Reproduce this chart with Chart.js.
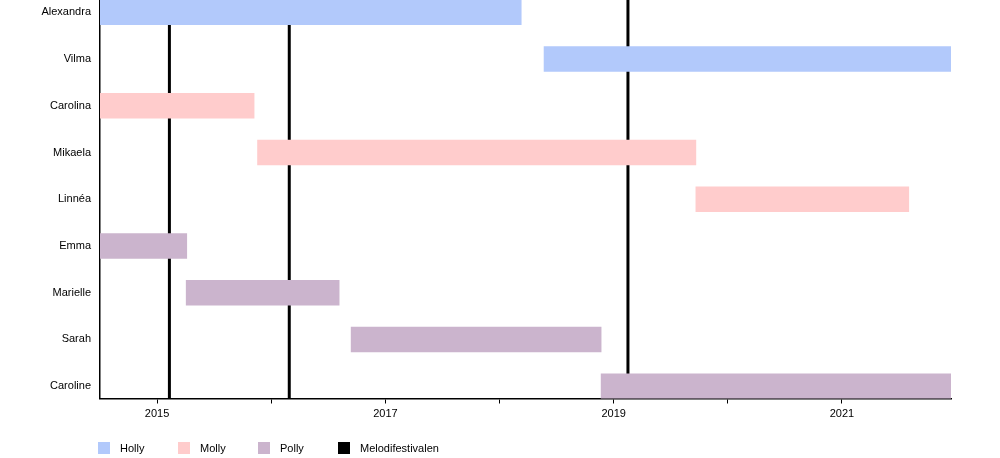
<!DOCTYPE html>
<html>
<head>
<meta charset="utf-8">
<script src="https://cdn.jsdelivr.net/npm/chart.js@4/dist/chart.umd.min.js"></script>
<style>
    html, body { margin: 0; padding: 0; background: #fff; }
    #wrap { position: relative; width: 1000px; height: 458px; }
    #legend { position: absolute; left: 98px; top: 442px; display: flex; font-family: "Liberation Sans", Arial, sans-serif; font-size: 11px; color: #000; }
    .item { min-width: 80px; display: flex; align-items: center; }
    .box { width: 12px; height: 12px; margin-right: 10px; flex-shrink: 0; }
</style>
</head>
<body>
<div id="wrap">
    <canvas id="chart" width="1000" height="458"></canvas>
    <div id="legend"></div>
</div>
<script>
// Medlemmar (uppifrån och ned)
const members = ["Alexandra", "Vilma", "Carolina", "Mikaela", "Linnéa", "Emma", "Marielle", "Sarah", "Caroline"];
const roles = ["Holly", "Molly", "Polly"];
const roleColors = ["#b2c9fb", "#ffcccc", "#cbb4cd"];

// Perioder i decimalår: [medlem, roll, start, slut]
const periodMember = ["Alexandra", "Vilma", "Carolina", "Mikaela", "Linnéa", "Emma", "Marielle", "Sarah", "Caroline"];
const periodRole = ["Holly", "Holly", "Molly", "Molly", "Molly", "Polly", "Polly", "Polly", "Polly"];
const periodStart = [2014.5, 2018.39, 2014.5, 2015.88, 2019.72, 2014.5, 2015.255, 2016.7, 2018.89];
const periodEnd = [2018.19, 2021.955, 2015.85, 2019.72, 2021.585, 2015.26, 2016.595, 2018.89, 2021.955];

// Melodifestivalen
const melodifestivalen = [2015.108, 2016.158, 2019.125];

const yearTicks = [2015, 2016, 2017, 2018, 2019, 2020, 2021];
const yearLabels = ["2015", "", "2017", "", "2019", "", "2021"];

const yMin = -0.263;
const yMax = 8.263;

// Bygg staplar per roll
const barSets = roles.map((role, r) => ({
    type: 'bar',
    label: role,
    data: periodRole.map((pr, i) => pr === role ? {
        y: members.indexOf(periodMember[i]),
        x: [periodStart[i], periodEnd[i]]
    } : null).filter(d => d !== null),
    backgroundColor: roleColors[r],
    borderWidth: 0,
    barThickness: 25,
    order: 1
}));

// Vertikala linjer
const lineSets = melodifestivalen.map(d => ({
    type: 'line',
    label: 'Melodifestivalen',
    indexAxis: 'x',
    data: [{ x: d, y: yMin }, { x: d, y: yMax }],
    borderColor: '#000',
    borderWidth: 3,
    pointRadius: 0,
    fill: false,
    order: 2
}));

Chart.defaults.font.family = '"Liberation Sans", Arial, sans-serif';
Chart.defaults.font.size = 11;
Chart.defaults.color = '#000';

new Chart(document.getElementById('chart'), {
    type: 'bar',
    data: { datasets: [...barSets, ...lineSets] },
    options: {
        responsive: false,
        animation: false,
        indexAxis: 'y',
        datasets: { bar: { grouped: false } },
        layout: { padding: { left: 0, right: 49, top: 0, bottom: 0 } },
        plugins: {
            legend: { display: false },
            tooltip: { enabled: false }
        },
        scales: {
            x: {
                type: 'linear',
                min: 2014.5,
                max: 2021.955,
                offset: false,
                afterBuildTicks: (scale) => { scale.ticks = yearTicks.map(v => ({ value: v })); },
                afterFit: (scale) => { scale.height = 59.5; scale.paddingLeft = 0; scale.paddingRight = 0; },
                ticks: {
                    padding: 4,
                    maxRotation: 0,
                    autoSkip: false,
                    callback: (v, i) => yearLabels[i]
                },
                grid: { drawOnChartArea: false, drawTicks: true, tickLength: 5, color: '#000' },
                border: { display: true, color: '#000', width: 1.5 }
            },
            y: {
                type: 'linear',
                reverse: true,
                offset: false,
                min: yMin,
                max: yMax,
                afterBuildTicks: (scale) => { scale.ticks = members.map((m, i) => ({ value: i })); },
                afterFit: (scale) => { scale.width = 100; scale.paddingTop = 0; scale.paddingBottom = 0; },
                ticks: {
                    padding: 9,
                    autoSkip: false,
                    callback: (v) => members[v]
                },
                grid: { drawOnChartArea: false, drawTicks: false },
                border: { display: true, color: '#000', width: 1.5 }
            }
        }
    }
});

// Legend
const legend = document.getElementById('legend');
[...roles, 'Melodifestivalen'].forEach((name, i) => {
    const item = document.createElement('div');
    item.className = 'item';
    const box = document.createElement('span');
    box.className = 'box';
    box.style.background = i < roleColors.length ? roleColors[i] : '#000';
    const txt = document.createElement('span');
    txt.textContent = name;
    item.appendChild(box);
    item.appendChild(txt);
    legend.appendChild(item);
});
</script>
</body>
</html>
